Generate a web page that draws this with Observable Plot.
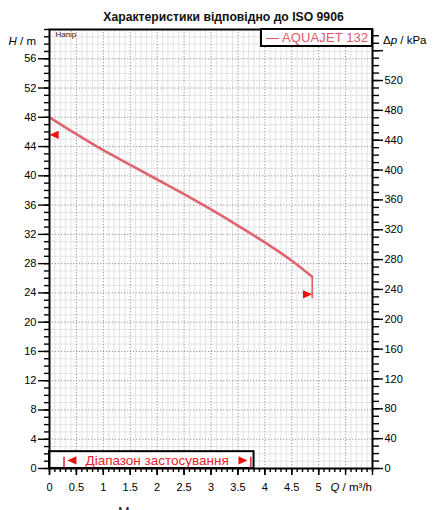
<!DOCTYPE html>
<html><head><meta charset="utf-8">
<script src="https://cdn.jsdelivr.net/npm/d3@7"></script>
<script src="https://cdn.jsdelivr.net/npm/@observablehq/plot@0.6"></script>
<style>
html,body{margin:0;padding:0;background:#fff;overflow:hidden;}
body{font-family:"Liberation Sans",Arial,sans-serif;}
#wrap{position:relative;width:447px;height:510px;overflow:hidden;}
#title{position:absolute;left:0;top:10.5px;width:447px;text-align:center;font-weight:bold;font-size:12.2px;line-height:12px;color:#111;}
#chart{position:absolute;left:0;top:24px;}
#legend{position:absolute;left:260px;top:28px;width:113px;height:19px;box-sizing:border-box;border:2px solid #000;background:#fff;color:#e05868;font-size:13px;letter-spacing:0.1px;line-height:15px;padding-left:4px;white-space:nowrap;}
#cut{position:absolute;left:118px;top:505px;font-size:14px;line-height:14px;color:#222;}
</style></head><body>
<div id="wrap">
  <div id="title">Характеристики відповідно до ISO 9906</div>
  <div id="chart"></div>
  <div id="legend">— AQUAJET 132</div>
  <div id="cut">М</div>
</div>
<script>
// ---- data ----
const flowQ = [0, 0.5, 1, 1.5, 2, 2.5, 3, 3.5, 4, 4.5, 4.88];
const headH = [48, 45.7, 43.5, 41.5, 39.5, 37.5, 35.4, 33.2, 30.9, 28.4, 26.2];
const endDropQ = 4.88;
const endDropH = [26.2, 23.2];
const markerLeft = {q: 0, h: 45.6};
const markerRight = {q: 4.88, h: 23.8};
const rangeBoxQ = [0, 3.8];
const rangeBoxH = [0, 2.3];
const rangeLimitQ = [0.27, 3.74];
const rangeBarH = [0.05, 1.55];
const rangeArrowLeftQ = 0.33;
const rangeArrowRightQ = 3.68;
const rangeArrowH = 1.1;
const rangeLabel = "Діапазон застосування";
const rangeLabelQ = 2.0;
const qLabelTicks = [0, 0.5, 1, 1.5, 2, 2.5, 3, 3.5, 4, 4.5, 5];
const qMajorTicks = [0, 0.5, 1, 1.5, 2, 2.5, 3, 3.5, 4, 4.5, 5, 5.5, 6];
const qMinorTicks = d3.range(0, 61).map(i => i / 10);
const hLabelTicks = [0, 4, 8, 12, 16, 20, 24, 28, 32, 36, 40, 44, 48, 52, 56];
const hMinorTicks = d3.range(0, 61);
const kpaLabelTicks = [0, 40, 80, 120, 160, 200, 240, 280, 320, 360, 400, 440, 480, 520];
const kpaMajorTicks = [560];
const kpaMinorTicks = d3.range(0, 581, 10);
const RHO_G = 9.80665; // kPa per m of water

const curve = flowQ.map((q, i) => ({q, h: headH[i]}));
const gridMinorX = qMinorTicks.filter(v => Math.abs(v * 2 - Math.round(v * 2)) > 1e-6);
const gridMinorY = hMinorTicks.filter(v => v % 4 !== 0);
const gridMajorX = qMajorTicks.filter(v => v > 0 && v < 6);
const gridMajorY = hLabelTicks.filter(v => v > 0);

const triRight = {draw(ctx, size){const r=Math.sqrt(size/Math.PI); ctx.moveTo(0,0); ctx.lineTo(-2*r,-0.9*r); ctx.lineTo(-2*r,0.9*r); ctx.closePath();}};
const triLeft = {draw(ctx, size){const r=Math.sqrt(size/Math.PI); ctx.moveTo(0,0); ctx.lineTo(2*r,-0.9*r); ctx.lineTo(2*r,0.9*r); ctx.closePath();}};

const RED = "#ee1111";
const CURVE = "#e06470";

const plot = Plot.plot({
  width: 447,
  height: 486,
  marginTop: 5,
  marginBottom: 42,
  marginLeft: 49,
  marginRight: 75,
  style: {fontFamily: '"Liberation Sans", Arial, sans-serif', fontSize: "11px", color: "#000", background: "transparent"},
  x: {domain: [0, 6], axis: null, label: null},
  y: {domain: [0, 60], axis: null, label: null},
  marks: [
    Plot.gridX(gridMinorX, {stroke: "#e3e3e3", strokeOpacity: 1, strokeWidth: 1}),
    Plot.gridY(gridMinorY, {stroke: "#e3e3e3", strokeOpacity: 1, strokeWidth: 1}),
    Plot.gridX(gridMajorX, {stroke: "#9a9a9a", strokeOpacity: 1, strokeWidth: 1, strokeDasharray: "1.3,1.7"}),
    Plot.gridY(gridMajorY, {stroke: "#9a9a9a", strokeOpacity: 1, strokeWidth: 1, strokeDasharray: "1.3,1.7"}),
    Plot.rect([{}], {x1: rangeBoxQ[0], x2: rangeBoxQ[1], y1: rangeBoxH[0], y2: rangeBoxH[1], fill: "#fff", stroke: "#000", strokeWidth: 2}),
    Plot.line(curve, {x: "q", y: "h", stroke: CURVE, strokeWidth: 2.6, curve: "catmull-rom"}),
    Plot.ruleX([endDropQ], {y1: endDropH[0], y2: endDropH[1], stroke: CURVE, strokeWidth: 1.6}),
    Plot.dot([markerLeft], {x: "q", y: "h", symbol: triLeft, r: 4.6, fill: RED, stroke: null}),
    Plot.dot([markerRight], {x: "q", y: "h", symbol: triRight, r: 4.6, fill: RED, stroke: null}),
    Plot.ruleX(rangeLimitQ, {y1: rangeBarH[0], y2: rangeBarH[1], stroke: "#e03040", strokeWidth: 1.6}),
    Plot.dot([{q: rangeArrowLeftQ, h: rangeArrowH}], {x: "q", y: "h", symbol: triLeft, r: 4.6, fill: RED, stroke: null}),
    Plot.dot([{q: rangeArrowRightQ, h: rangeArrowH}], {x: "q", y: "h", symbol: triRight, r: 4.6, fill: RED, stroke: null}),
    Plot.text([rangeLabel], {x: rangeLabelQ, y: rangeArrowH, text: d => d, fill: "#e8232e", fontSize: 13.5, lineAnchor: "middle"}),
    Plot.text(["Напір"], {frameAnchor: "top-left", dx: 6, dy: 2, lineAnchor: "top", textAnchor: "start", fontSize: 8, fill: "#222"}),
    Plot.frame({stroke: "#000", strokeWidth: 2}),
    // left axis
    Plot.axisY({anchor: "left", ticks: hMinorTicks, tickSize: 5, tickFormat: () => "", strokeWidth: 1.4, label: null}),
    Plot.axisY({anchor: "left", ticks: hLabelTicks, tickSize: 11, tickPadding: 2, strokeWidth: 1.4, label: null}),
    // right axis (kPa)
    Plot.axisY({anchor: "right", ticks: kpaMinorTicks.map(k => k / RHO_G), tickSize: 6, tickFormat: () => "", strokeWidth: 1.4, label: null}),
    Plot.axisY({anchor: "right", ticks: kpaMajorTicks.map(k => k / RHO_G), tickSize: 10, tickFormat: () => "", strokeWidth: 1.4, label: null}),
    Plot.axisY({anchor: "right", ticks: kpaLabelTicks.map(k => k / RHO_G), tickSize: 10, tickPadding: 2, tickFormat: d => String(Math.round(d * RHO_G)), strokeWidth: 1.4, label: null}),
    // bottom axis
    Plot.axisX({anchor: "bottom", ticks: qMinorTicks, tickSize: 4, tickFormat: () => "", strokeWidth: 1.4, label: null}),
    Plot.axisX({anchor: "bottom", ticks: qMajorTicks, tickSize: 7, tickFormat: () => "", strokeWidth: 1.4, label: null}),
    Plot.axisX({anchor: "bottom", ticks: qLabelTicks, tickSize: 7, tickPadding: 8, tickFormat: d => String(d), strokeWidth: 1.4, label: null})
  ]
});
document.getElementById("chart").appendChild(plot);

// rich-text axis titles
const xs = plot.scale("x"), ys = plot.scale("y");
const svg = d3.select(plot);
const font = '"Liberation Sans", Arial, sans-serif';
function label(x, y, anchor, parts) {
  const t = svg.append("text").attr("x", x).attr("y", y).attr("text-anchor", anchor)
    .attr("font-family", font).attr("font-size", 11.5).attr("fill", "#000");
  parts.forEach(([s, it]) => t.append("tspan").attr("font-style", it ? "italic" : "normal").text(s));
}
label(xs.apply(0) - 13, 21, "end", [["H", true], [" / m", false]]);
label(xs.apply(6) + 11, 20, "start", [["Δ", false], ["p", true], [" / kPa", false]]);
label(xs.apply(6), ys.apply(0) + 22.7, "end", [["Q", true], [" / m³/h", false]]);
</script>
</body></html>
